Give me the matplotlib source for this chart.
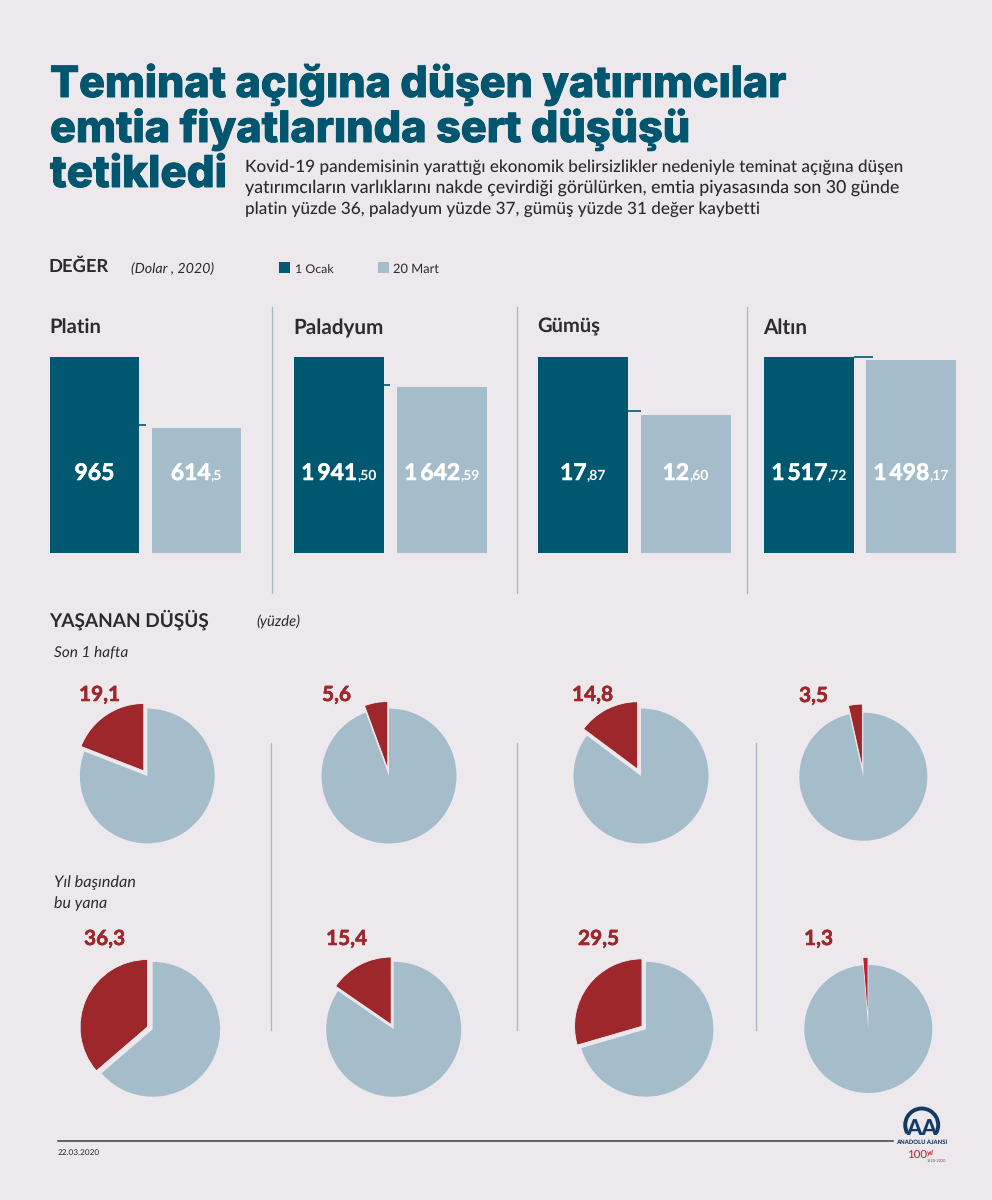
import matplotlib
matplotlib.use("Agg")
import matplotlib.pyplot as plt
from matplotlib.patches import Arc, Rectangle
import matplotlib.patheffects as pe

plt.rcParams['font.family'] = ['Lato', 'Open Sans', 'DejaVu Sans']
plt.rcParams['text.hinting'] = 'none'

# ---------- data ----------
metals = ["Platin", "Paladyum", "Gümüş", "Altın"]
series_names = ["1 Ocak", "20 Mart"]
values_ocak = [965, 1941.50, 17.87, 1517.72]
values_mart = [614.5, 1642.59, 12.60, 1498.17]
labels_ocak = [("965", ""), ("1\u2009941", ",50"), ("17", ",87"), ("1\u2009517", ",72")]
labels_mart = [("614", ",5"), ("1\u2009642", ",59"), ("12", ",60"), ("1\u2009498", ",17")]
drop_week = [19.1, 5.6, 14.8, 3.5]
drop_ytd = [36.3, 15.4, 29.5, 1.3]
drop_week_labels = ["19,1", "5,6", "14,8", "3,5"]
drop_ytd_labels = ["36,3", "15,4", "29,5", "1,3"]

# ---------- styles ----------
BG = "#ECE8EC"
DARK = "#005870"
LIGHT = "#A5BDCA"
RED = "#9E272C"
RED2 = "#BE2032"
TEAL_T = "#00566E"
INK = "#2C2B2D"
RULE = "#A3B8C3"

fig = plt.figure(figsize=(9.92, 12), dpi=100, facecolor=BG)
ov = fig.add_axes([0, 0, 1, 1], zorder=5)
ov.set_xlim(0, 992); ov.set_ylim(1200, 0); ov.axis("off"); ov.patch.set_alpha(0)
renderer = fig.canvas.get_renderer()


def put(x, y, s, size=12, weight="regular", color=INK, style="normal", width=None, ha="left",
        stroke=0, family=None):
    t = ov.text(x, y, s, fontsize=size, fontweight=weight, color=color, fontstyle=style,
                ha=ha, va="baseline")
    if family:
        t.set_fontfamily(family)
    if width is not None:
        for _ in range(3):
            w = t.get_window_extent(renderer).width
            t.set_fontsize(t.get_fontsize() * width / w)
    if stroke:
        t.set_path_effects([pe.withStroke(linewidth=stroke, foreground=color)])
    return t


# ---------- header ----------
TF = ['Inter', 'Lato', 'DejaVu Sans']
put(50, 97, "Teminat açığına düşen yatırımcılar", 30, "heavy", TEAL_T, width=736, family=TF, stroke=0.7)
put(50, 142, "emtia fiyatlarında sert düşüşü", 30, "heavy", TEAL_T, width=640, family=TF, stroke=0.7)
put(50, 187, "tetikledi", 30, "heavy", TEAL_T, width=177, family=TF, stroke=0.7)
body = ["Kovid-19 pandemisinin yarattığı ekonomik belirsizlikler nedeniyle teminat açığına düşen",
        "yatırımcıların varlıklarını nakde çevirdiği görülürken, emtia piyasasında son 30 günde",
        "platin yüzde 36, paladyum yüzde 37, gümüş yüzde 31 değer kaybetti"]
for yy, ww, s in zip([172, 193, 214], [659, 653, 514], body):
    put(245, yy, s, 11.5, "medium", INK, width=ww)

put(49, 272, "DEĞER", 13, "bold", INK, width=60)
put(131, 273, "(Dolar , 2020)", 9.5, "regular", INK, "italic", width=83)
ov.add_patch(Rectangle((279, 262), 10.5, 11, color=DARK, lw=0))
put(295, 273, series_names[0], 9.5, "regular", INK, width=39)
ov.add_patch(Rectangle((378, 262), 10.5, 11, color=LIGHT, lw=0))
put(393, 273, series_names[1], 9.5, "regular", INK, width=46)

# ---------- bars ----------
bar_geom = [(50, 152, 88.8), (294, 397, 89.6), (538, 640.5, 90), (764, 866, 89.8)]
title_geom = [(334, 52), (334, 90), (332, 63), (334, 44)]
joint_geom = [(425, 146), (384.5, 390), (411, 641), (357, 873)]
BAR_TOP, BAR_BOTTOM = 357, 553


def value_label(cx, main, small):
    a = put(0, 480, main, 16.5, "bold", "white", stroke=0.4)
    wa = a.get_window_extent(renderer).width
    wb = 0
    if small:
        b = put(0, 480, small, 10, "bold", "white")
        wb = b.get_window_extent(renderer).width
    x0 = cx - (wa + wb) / 2
    a.set_x(x0)
    if small:
        b.set_x(x0 + wa)


for i, name in enumerate(metals):
    x1, x2, w = bar_geom[i]
    ax = fig.add_axes([x1 / 992, 1 - BAR_BOTTOM / 1200, (x2 + w - x1) / 992,
                       (BAR_BOTTOM - BAR_TOP) / 1200], zorder=2)
    pitch = x2 - x1
    u = w / pitch
    ax.bar([0], [values_ocak[i]], width=u, color=DARK, lw=0)
    ax.bar([1], [values_mart[i]], width=u, color=LIGHT, lw=0)
    ax.set_xlim(-u / 2, 1 + u / 2)
    ax.set_ylim(0, max(values_ocak[i], values_mart[i]))
    ax.axis("off")
    tb, tw = title_geom[i]
    put(x1 - 1, tb, name, 13, "bold", INK, width=tw)
    value_label(x1 + w / 2, *labels_ocak[i])
    value_label(x2 + w / 2, *labels_mart[i])
    jy, jx = joint_geom[i]
    ov.plot([x1 + w, jx], [jy, jy], color=DARK, lw=1.2, solid_capstyle="butt")

for x in (271.7, 517.3, 747.3):
    ov.plot([x, x], [307, 593], color=RULE, lw=0.9)

# ---------- pies ----------
put(49, 627, "YAŞANAN DÜŞÜŞ", 13, "bold", INK, width=160)
put(256, 626, "(yüzde)", 9.5, "regular", INK, "italic", width=44)
put(54, 656, "Son 1 hafta", 10, "regular", INK, "italic", width=74)
put(54, 887, "Yıl başından", 10, "regular", INK, "italic", width=82)
put(54, 908, "bu yana", 10, "regular", INK, "italic", width=53)

pie_week = [(147.3, 776, 67.4, .092, 79, 701), (389, 776, 67.5, .105, 322, 701),
            (641, 776, 67.5, .112, 572, 701), (863.3, 776.7, 64, .135, 799, 702)]
pie_ytd = [(152.7, 1029.3, 67.4, .085, 84, 945), (393.7, 1029.3, 67.5, .08, 326, 945),
           (646, 1029.3, 67.4, .075, 578, 945), (868.3, 1029, 64, .12, 804, 945)]


def draw_pie(val, geom, label, red):
    cx, cy, r, ex, lx, ly = geom
    k = 1.3
    ax = fig.add_axes([(cx - k * r) / 992, 1 - (cy + k * r) / 1200, 2 * k * r / 992, 2 * k * r / 1200], zorder=2)
    ax.pie([val, 100 - val], colors=[red, LIGHT], startangle=90, counterclock=True,
           explode=[ex, 0], radius=1, wedgeprops=dict(lw=0))
    ax.patches[0].set_edgecolor("#F2EEF0")
    ax.patches[0].set_linewidth(0.6)
    ax.set_xlim(-k, k); ax.set_ylim(-k, k)
    ax.set_aspect("equal")
    ax.axis("off")
    put(lx, ly, label, 15, "bold", RED, stroke=0.4)


for i in range(4):
    draw_pie(drop_week[i], pie_week[i], drop_week_labels[i], RED)
    draw_pie(drop_ytd[i], pie_ytd[i], drop_ytd_labels[i], RED2 if i == 3 else RED)

for x in (271.3, 517.3, 756.3):
    ov.plot([x, x], [743, 1030], color=RULE, lw=0.9)

# ---------- footer ----------
ov.plot([58, 893], [1140.5, 1140.5], color="#3C3A42", lw=1.1)
put(58, 1155, "22.03.2020", 5.5, "regular", INK, width=42)
NAVY = "#123A63"
ov.add_patch(Arc((921.7, 1125), 33, 33, theta1=150, theta2=390, color=NAVY, lw=2.8))
put(921.7, 1135, "AA", 17, "black", NAVY, ha="center", width=31)
put(921.7, 1144, "ANADOLU AJANSI", 5.2, "black", NAVY, ha="center", width=51)
put(907, 1159, "100", 10, "regular", "#B5252F", width=20)
put(927, 1155, "yıl", 5, "bold", "#B5252F", style="italic")
put(927, 1162, "1920-2020", 2.8, "regular", "#555555")

fig.savefig("out.png", dpi=100, facecolor=BG)
